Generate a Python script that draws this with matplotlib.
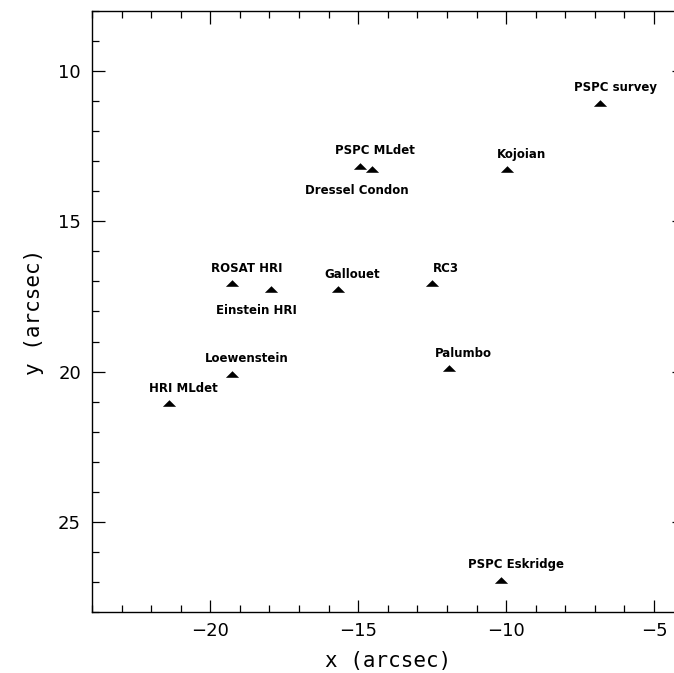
import matplotlib
matplotlib.use("Agg")
import matplotlib.pyplot as plt
from matplotlib.ticker import MultipleLocator

# Data (arcsec offsets)
names = ["PSPC survey", "PSPC MLdet", "Dressel Condon", "Kojoian",
         "ROSAT HRI", "Einstein HRI", "Gallouet", "RC3",
         "Palumbo", "Loewenstein", "HRI MLdet", "PSPC Eskridge"]
x_vals = [-6.81, -14.94, -14.54, -9.98,
          -19.28, -17.95, -15.69, -12.52,
          -11.93, -19.28, -21.40, -10.18]
y_vals = [11.06, 13.15, 13.27, 13.26,
          17.06, 17.26, 17.26, 17.06,
          19.89, 20.08, 21.06, 26.93]
below = ["Dressel Condon", "Einstein HRI"]

x_ticks = [-20, -15, -10, -5]
y_ticks = [10, 15, 20, 25]

W, H = 674, 673
fig = plt.figure(figsize=(W / 100, H / 100), dpi=100)
left, right, top, bottom = 92, 683.6, 11, 612
ax = fig.add_axes([left / W, (H - bottom) / H, (right - left) / W, (bottom - top) / H])

tri = [(-1, -0.5), (1, -0.5), (0, 0.5), (-1, -0.5)]
ax.plot(x_vals, y_vals, linestyle="none", marker=tri, markersize=9.5,
        color="black", markeredgewidth=0)

for n, xv, yv in zip(names, x_vals, y_vals):
    if n in below:
        tx, ty = xv - 0.5, yv + 0.72
    else:
        tx, ty = xv + 0.5, yv - 0.5
    ax.text(tx, ty, n, ha="center", va="center", fontsize=8.5,
            fontweight="bold", family="DejaVu Sans", color="black")

ax.set_xlim(-24, -4)
ax.set_ylim(28, 8)
ax.set_xticks(x_ticks)
ax.set_yticks(y_ticks)
ax.set_xticklabels([f"\u2212{abs(v)}" for v in x_ticks])
ax.xaxis.set_minor_locator(MultipleLocator(1))
ax.yaxis.set_minor_locator(MultipleLocator(1))
ax.tick_params(which="both", direction="in", top=True, right=True,
               width=0.9, color="black")
ax.tick_params(which="major", length=9, labelsize=13, pad=7)
ax.tick_params(which="minor", length=5.3)
ax.tick_params(axis="y", which="major", pad=8)
for s in ax.spines.values():
    s.set_linewidth(1.0)

ax.set_xlabel("x (arcsec)", family="DejaVu Sans Mono", fontsize=15, labelpad=8)
ax.set_ylabel("y (arcsec)", family="DejaVu Sans Mono", fontsize=15, labelpad=10)

fig.savefig("out.png", dpi=100)
